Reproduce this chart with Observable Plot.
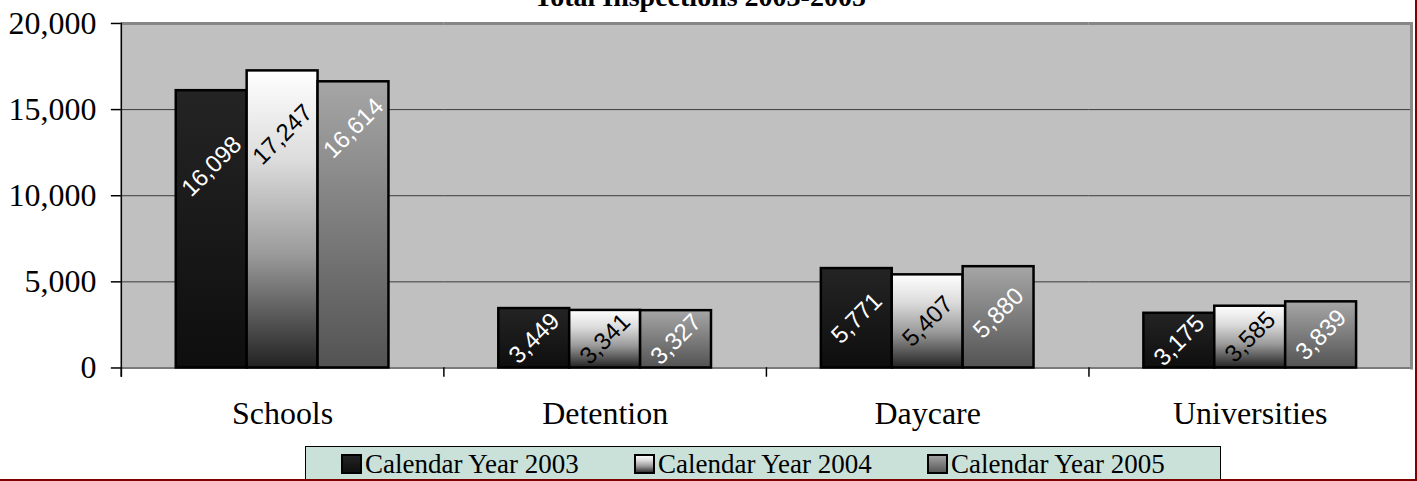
<!DOCTYPE html>
<html>
<head>
<meta charset="utf-8">
<script src="https://cdn.jsdelivr.net/npm/d3@7"></script>
<script src="https://cdn.jsdelivr.net/npm/@observablehq/plot@0.6"></script>
<style>
  html, body { margin: 0; padding: 0; background: white; }
  #wrap { position: relative; width: 1417px; height: 481px; box-sizing: border-box;
          border-right: 2px solid #800000; border-bottom: 2px solid #800000; overflow: hidden; }
  #title { position: absolute; left: 400px; width: 600px; top: -17px; text-align: center;
           font: bold 28px/28px "Liberation Serif", "Times New Roman", serif; color: black; z-index: 2; }
  #legend { position: absolute; left: 305px; top: 446px; width: 916px; height: 40px; box-sizing: border-box;
            background: #c9e1d9; border: 1.5px solid black; display: flex; padding-left: 35px; z-index: 2; }
  .item { width: 306px; display: flex; align-items: center; height: 34px;
          font: 27px "Liberation Serif", "Times New Roman", serif; color: black; }
  .item svg { margin-right: 3px; }
</style>
</head>
<body>
<svg width="0" height="0" style="position:absolute">
  <defs>
    <linearGradient id="g2003" x1="0" y1="0" x2="0" y2="1">
      <stop offset="0" stop-color="#242424"/>
      <stop offset="1" stop-color="#0e0e0e"/>
    </linearGradient>
    <linearGradient id="g2004" x1="0" y1="0" x2="0" y2="1">
      <stop offset="0" stop-color="#ffffff"/>
      <stop offset="0.3" stop-color="#dcdcdc"/>
      <stop offset="0.62" stop-color="#9a9a9a"/>
      <stop offset="1" stop-color="#222222"/>
    </linearGradient>
    <linearGradient id="g2005" x1="0" y1="0" x2="0" y2="1">
      <stop offset="0" stop-color="#a6a6a6"/>
      <stop offset="1" stop-color="#535353"/>
    </linearGradient>
  </defs>
</svg>
<div id="wrap">
  <div id="title">Total Inspections 2003-2005</div>
  <div id="chart"></div>
  <div id="legend"></div>
</div>
<script>
const categories = ["Schools", "Detention", "Daycare", "Universities"];
const years = ["Calendar Year 2003", "Calendar Year 2004", "Calendar Year 2005"];
const values2003 = [16098, 3449, 5771, 3175];
const values2004 = [17247, 3341, 5407, 3585];
const values2005 = [16614, 3327, 5880, 3839];
const yTicks = [0, 5000, 10000, 15000, 20000];

const seriesValues = [values2003, values2004, values2005];
const gradients = ["url(#g2003)", "url(#g2004)", "url(#g2005)"];
const labelColors = ["white", "black", "white"];
const labelInsets = [4400, 3700, 2700];

const table = years.flatMap((yr, i) =>
  categories.map((c, j) => ({category: c, year: yr, value: seriesValues[i][j]})));

const fmt = d3.format(",");

const labelMarks = years.map((yr, i) =>
  Plot.text(table.filter(d => d.year === yr), {
    fx: "category", x: "year",
    y: d => Math.max(d.value / 2, d.value - labelInsets[i]),
    text: d => fmt(d.value),
    rotate: -45,
    fill: labelColors[i],
    fontSize: 24,
    fontFamily: "'Liberation Sans', Arial, sans-serif"
  }));

const chart = Plot.plot({
  width: 1417,
  height: 440,
  marginTop: 23,
  marginRight: 3,
  marginBottom: 72,
  marginLeft: 120,
  style: {fontFamily: "'Liberation Serif', 'Times New Roman', serif", fontSize: "32px", color: "black", background: "transparent"},
  fx: {domain: categories, padding: 0, label: null},
  x: {domain: years, paddingInner: 0, paddingOuter: 0.75, axis: null},
  y: {domain: [0, 20000]},
  color: {domain: years, range: gradients},
  marks: [
    Plot.frame({fill: "#c0c0c0", stroke: null, insetLeft: -0.75, insetRight: -0.75}),
    Plot.ruleY(yTicks.filter(t => t > 0 && t < 20000), {stroke: "#3a3a3a", strokeWidth: 1}),
    Plot.ruleY([20000], {stroke: "#868686", strokeWidth: 3}),
    Plot.ruleY([0], {stroke: "#7a7a7a", strokeWidth: 2}),
    Plot.frame({anchor: "right", fx: [categories[3]], stroke: "#8a8a8a", strokeWidth: 3}),
    Plot.frame({anchor: "left", insetTop: 345, insetBottom: -8, stroke: "black", strokeWidth: 1.5}),
    Plot.frame({anchor: "left", fx: [categories[0]], insetBottom: -8, stroke: "black", strokeWidth: 1.5}),
    Plot.barY(table, {fx: "category", x: "year", y: "value", fill: "year", stroke: "black", strokeWidth: 2.5}),
    ...labelMarks,
    Plot.axisY(yTicks, {tickFormat: d3.format(","), tickSize: 10, tickPadding: 15, fontSize: 32, label: null, strokeWidth: 1.5}),
    Plot.axisFx({anchor: "bottom", tickSize: 0, tickPadding: 33, fontSize: 32, label: null})
  ]
});
document.getElementById("chart").appendChild(chart);

const legend = document.getElementById("legend");
years.forEach((yr, i) => {
  const item = document.createElement("div");
  item.className = "item";
  item.innerHTML = `<svg width="21" height="20"><rect x="1" y="1" width="19" height="18" fill="${gradients[i]}" stroke="black" stroke-width="2"/></svg><span>${yr}</span>`;
  legend.appendChild(item);
});
</script>
</body>
</html>
